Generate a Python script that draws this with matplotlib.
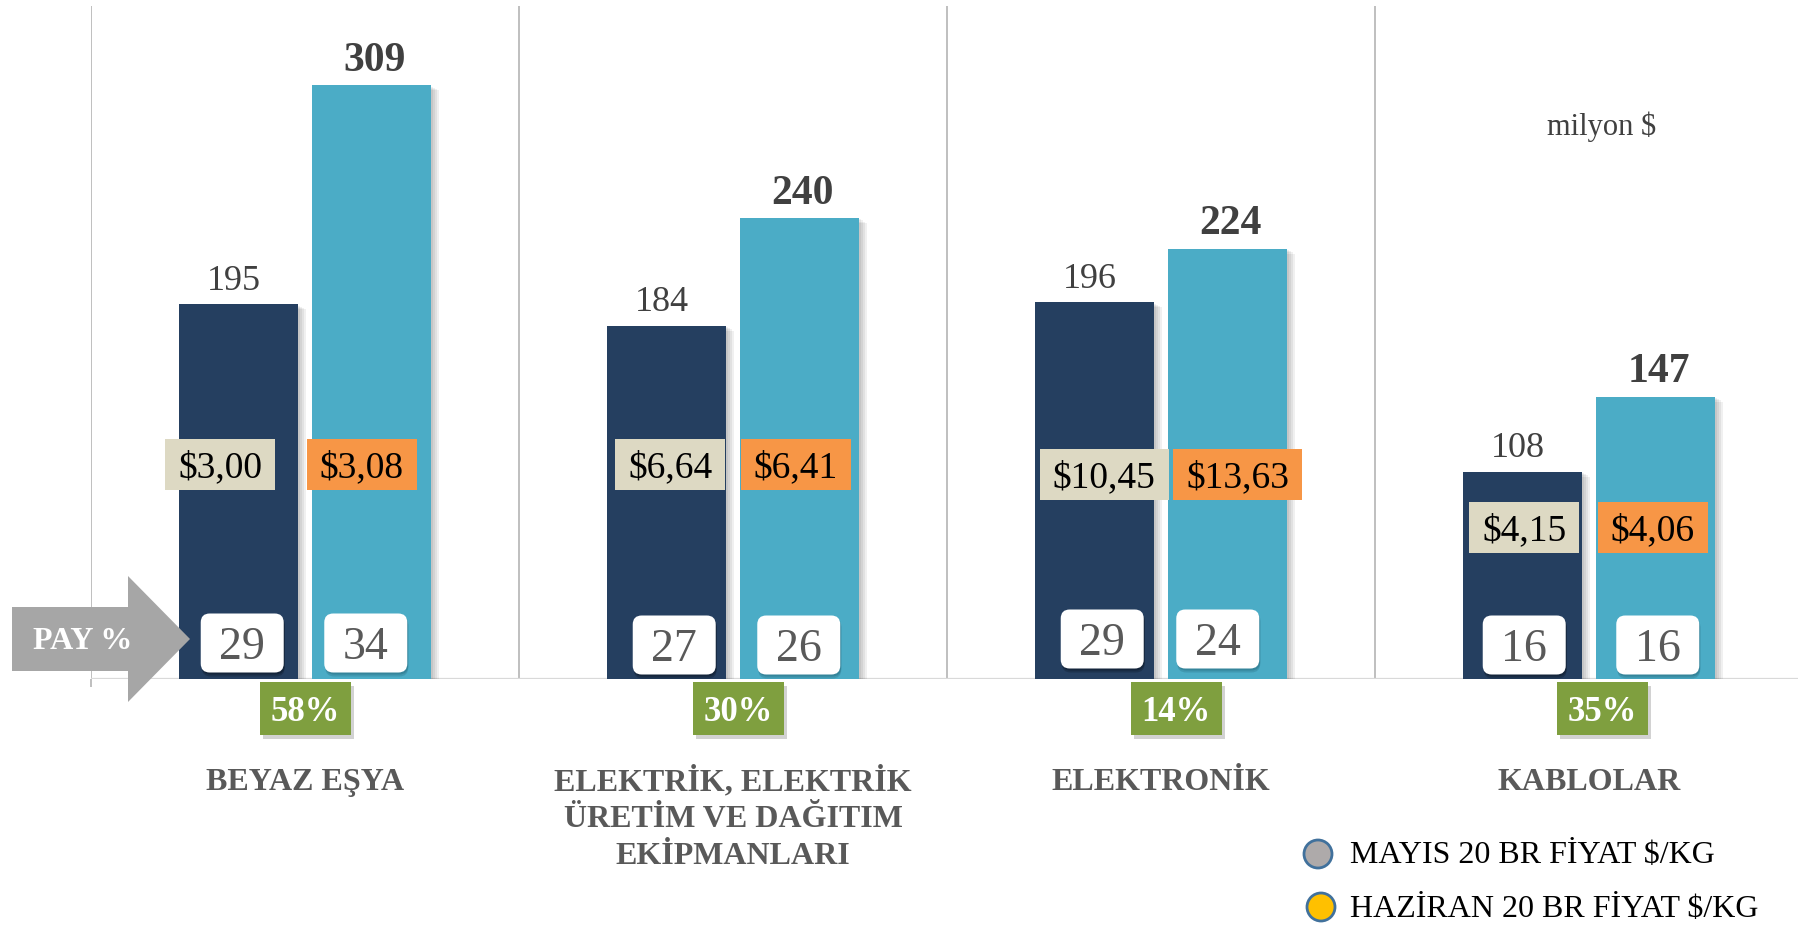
import numpy as np
import matplotlib
matplotlib.use("Agg")
import matplotlib.pyplot as plt
import matplotlib.patheffects as pe
from matplotlib.patches import Rectangle, FancyBboxPatch, Polygon, Circle

plt.rcParams['font.family'] = ['Liberation Serif', 'DejaVu Serif']

# data
categories = ['BEYAZ EŞYA', 'ELEKTRİK, ELEKTRİK\nÜRETİM VE DAĞITIM\nEKİPMANLARI',
              'ELEKTRONİK', 'KABLOLAR']
may_values = [195, 184, 196, 108]
jun_values = [309, 240, 224, 147]
may_price = ['$3,00', '$6,64', '$10,45', '$4,15']
jun_price = ['$3,08', '$6,41', '$13,63', '$4,06']
may_share = [29, 27, 29, 16]
jun_share = [34, 26, 24, 16]
growth = ['58%', '30%', '14%', '35%']
legend_labels = ['MAYIS 20 BR FİYAT $/KG', 'HAZİRAN 20 BR FİYAT $/KG']

# layout (pixels)
W, H = 1798, 928
base_px, top_px, left_px = 680, 7, 91
step_px, unit_px = 428, 1.921
price_y = [465, 465, 475, 528]
price_dx = [(-18, -10), (4, -4), (10, 10), (2, -3)]
share_dx = [(4, -6), (8, -1), (8, -10), (2, 2)]
share_y = [644, 646, 640, 646]
growth_dx = [0, 5, 15, 13]

navy = '#253F60'
teal = '#4BACC6'

fig = plt.figure(figsize=(W / 100, H / 100), dpi=100)
ax = fig.add_axes([left_px / W, (H - base_px) / H, (W - left_px) / W, (base_px - top_px) / H])
ax.set_xlim(-0.5, -0.5 + (W - left_px) / step_px)
ax.set_ylim(0, (base_px - top_px) / unit_px)
ax.axis('off')

x = np.arange(len(categories))
off, bw = 0.156, 0.277

shadow = [pe.SimplePatchShadow(offset=(k, -k * 0.6), shadow_rgbFace='k', alpha=0.06)
          for k in (1.5, 3, 4.5, 6)] + [pe.Normal()]
b1 = ax.bar(x - off, may_values, bw, color=navy, zorder=3)
b2 = ax.bar(x + off, jun_values, bw, color=teal, zorder=3)
for b in list(b1) + list(b2):
    b.set_path_effects(shadow)

# category dividers and baseline
ax.vlines(x - 0.5, 0, ax.get_ylim()[1], color='#BFBFBF', lw=1.4, zorder=1)
ax.vlines([-0.5], -4.2, 0, color='#BFBFBF', lw=1.4, zorder=1, clip_on=False)
ax.axhline(0, color='#D9D9D9', lw=1.6, zorder=2)

# value labels
for i in range(len(x)):
    ax.annotate(str(may_values[i]), (x[i] - off, may_values[i]), xytext=(-3, 11),
                textcoords='offset points', ha='center', va='baseline',
                fontsize=26, color='#404040')
    ax.annotate(str(jun_values[i]), (x[i] + off, jun_values[i]), xytext=(2, 11),
                textcoords='offset points', ha='center', va='baseline',
                fontsize=30, weight='bold', color='#404040')

# overlay in pixel coordinates
ov = fig.add_axes([0, 0, 1, 1], zorder=5)
ov.set_xlim(0, W)
ov.set_ylim(H, 0)
ov.axis('off')


def px(xd, yd=0):
    dx, dy = ax.transData.transform((xd, yd))
    return dx, H - dy


for i in range(len(x)):
    # price boxes
    for j, (s, fc) in enumerate([(may_price[i], '#DDD9C3'), (jun_price[i], '#F79646')]):
        cx = px(x[i] + (off if j else -off))[0] + price_dx[i][j]
        cy = price_y[i]
        w = 110 if len(s) <= 5 else 129
        ov.add_patch(Rectangle((cx - w / 2, cy - 25.5), w, 51, fc=fc, ec='none', zorder=4))
        ov.text(cx, cy + 0.338 * 37.5, s, ha='center', va='baseline', fontsize=27,
                color='black', zorder=5)
    # share boxes
    for j, (v, sc) in enumerate([(may_share[i], '#0E1A2A'), (jun_share[i], '#2C7388')]):
        cx = px(x[i] + (off if j else -off))[0] + share_dx[i][j]
        cy = share_y[i]
        for k, a in ((4, 0.35), (2, 0.5)):
            ov.add_patch(FancyBboxPatch((cx - 41.5 + 1, cy - 29.5 + k), 83, 59,
                                        boxstyle='round,pad=0,rounding_size=9',
                                        fc=sc, ec='none', alpha=a, zorder=4))
        ov.add_patch(FancyBboxPatch((cx - 41.5, cy - 29.5), 83, 59,
                                    boxstyle='round,pad=0,rounding_size=9',
                                    fc='white', ec='none', zorder=5))
        ov.text(cx, cy + 0.338 * 45.8, str(v), ha='center', va='baseline', fontsize=33,
                color='#595959', zorder=6)
    # growth boxes
    gx = px(x[i])[0] + growth_dx[i]
    gy = 709.5
    ov.add_patch(Rectangle((gx - 45.5 + 3, gy - 26.5 + 4), 91, 53, fc='#7F7F7F',
                           ec='none', alpha=0.35, zorder=4))
    ov.add_patch(Rectangle((gx - 45.5, gy - 26.5), 91, 53, fc='#7F9F3F', ec='none', zorder=5))
    ov.text(gx, gy + 0.338 * 34.7, growth[i], ha='center', va='baseline', fontsize=25,
            weight='bold', color='white', zorder=6)
    # category labels
    for k, line in enumerate(categories[i].split('\n')):
        ov.text(px(x[i])[0], 790 + 37 * k, line, ha='center', va='baseline', fontsize=23,
                weight='bold', color='#595959')

# PAY % arrow
ov.add_patch(Polygon([(12, 608), (128, 608), (128, 577), (190, 640), (128, 703),
                      (128, 672), (12, 672)], closed=True, fc='#A6A6A6', ec='none', zorder=7))
ov.text(83, 649, 'PAY %', ha='center', va='baseline', fontsize=23, weight='bold',
        color='white', zorder=8)

ov.text(1602, 135, 'milyon $', ha='center', va='baseline', fontsize=22, color='#404040')

# legend
for (cx, cy), fc, lab, ty in [((1318, 855), '#AEAAAA', legend_labels[0], 863),
                              ((1321, 908), '#FFC000', legend_labels[1], 917)]:
    ov.add_patch(Circle((cx, cy), 14, fc=fc, ec='#41719C', lw=2, zorder=5))
    ov.text(1350, ty, lab, ha='left', va='baseline', fontsize=23, color='black')

fig.savefig('out.png', dpi=100, facecolor='white')
